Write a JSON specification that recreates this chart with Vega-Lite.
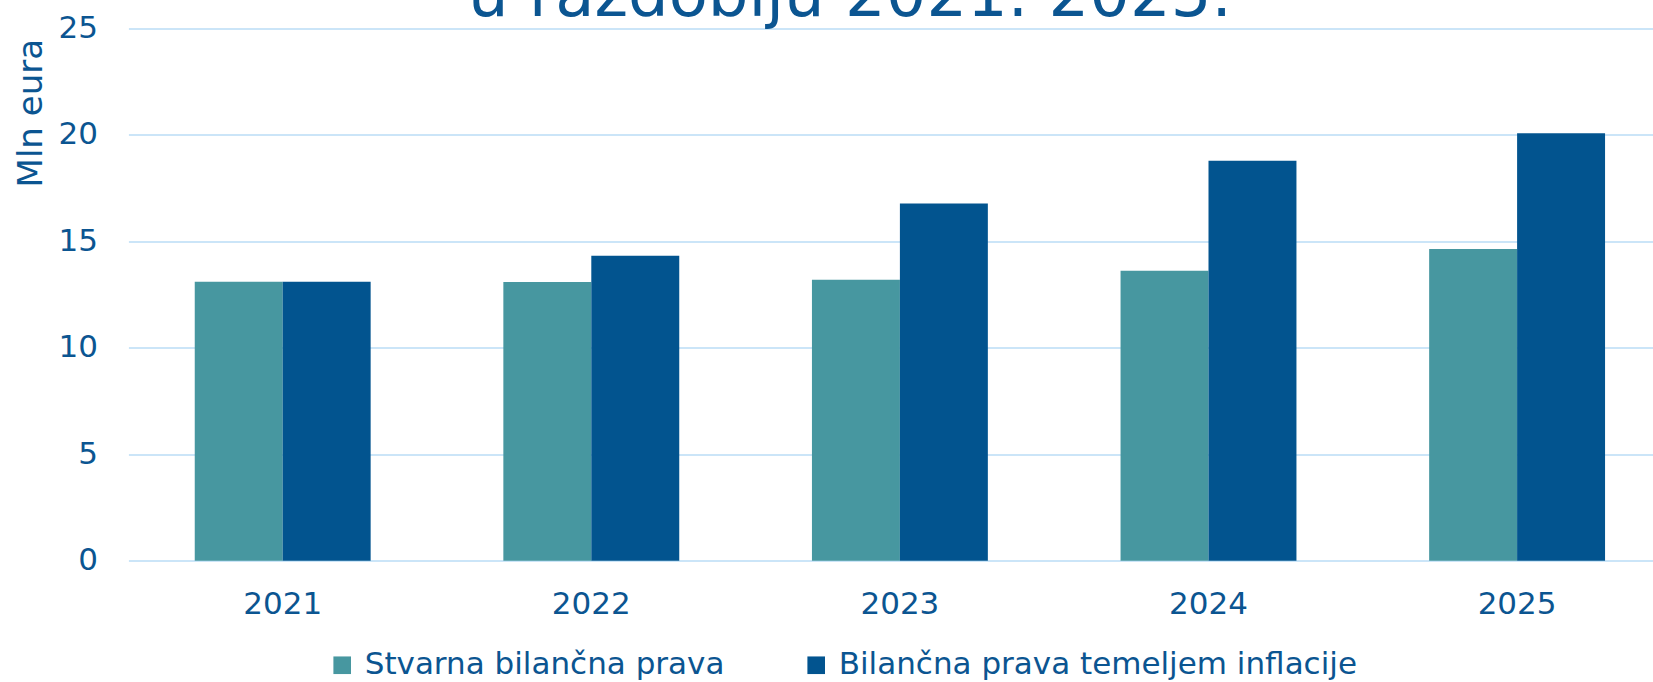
{
  "$schema": "https://vega.github.io/schema/vega-lite/v6.json",
  "autosize": {"type": "none"},
  "width": 1543,
  "height": 532.2,
  "padding": {"left": 128.4, "top": 28.5, "right": -18.4, "bottom": 121.3},
  "background": "white",
  "title": {
    "text": "u razdoblju 2021. 2025.",
    "font": "DejaVu Sans",
    "fontSize": 64,
    "fontWeight": "normal",
    "color": "#0b5591",
    "anchor": "middle",
    "offset": -16,
    "dx": -50
  },
  "data": {
    "values": [
      {"godina": "2021", "serija": "Stvarna bilančna prava", "vrijednost": 13.1},
      {"godina": "2021", "serija": "Bilančna prava temeljem inflacije", "vrijednost": 13.1},
      {"godina": "2022", "serija": "Stvarna bilančna prava", "vrijednost": 13.09},
      {"godina": "2022", "serija": "Bilančna prava temeljem inflacije", "vrijednost": 14.32},
      {"godina": "2023", "serija": "Stvarna bilančna prava", "vrijednost": 13.2},
      {"godina": "2023", "serija": "Bilančna prava temeljem inflacije", "vrijednost": 16.78},
      {"godina": "2024", "serija": "Stvarna bilančna prava", "vrijednost": 13.62},
      {"godina": "2024", "serija": "Bilančna prava temeljem inflacije", "vrijednost": 18.79},
      {"godina": "2025", "serija": "Stvarna bilančna prava", "vrijednost": 14.64},
      {"godina": "2025", "serija": "Bilančna prava temeljem inflacije", "vrijednost": 20.08}
    ]
  },
  "mark": {"type": "bar", "strokeWidth": 0},
  "encoding": {
    "x": {
      "field": "godina",
      "type": "nominal",
      "scale": {"paddingInner": 0.43, "paddingOuter": 0.215},
      "axis": {
        "title": null,
        "labelAngle": 0,
        "labelFont": "DejaVu Sans",
        "labelFontSize": 31,
        "labelColor": "#0b5591",
        "labelPadding": 29,
        "ticks": false,
        "domain": false,
        "grid": false
      }
    },
    "xOffset": {
      "field": "serija",
      "type": "nominal",
      "sort": ["Stvarna bilančna prava", "Bilančna prava temeljem inflacije"]
    },
    "y": {
      "field": "vrijednost",
      "type": "quantitative",
      "scale": {"domain": [0, 25], "nice": false},
      "axis": {
        "title": "Mln eura",
        "titleFont": "DejaVu Sans",
        "titleFontSize": 34,
        "titleFontWeight": "normal",
        "titleColor": "#0b5591",
        "titleAnchor": "end",
        "titleY": 10,
        "titlePadding": 9,
        "values": [0, 5, 10, 15, 20, 25],
        "labelFont": "DejaVu Sans",
        "labelFontSize": 31,
        "labelColor": "#0b5591",
        "labelPadding": 31,
        "ticks": false,
        "domain": false,
        "grid": true,
        "gridColor": "#cbe5f8",
        "gridWidth": 2
      }
    },
    "color": {
      "field": "serija",
      "type": "nominal",
      "sort": ["Stvarna bilančna prava", "Bilančna prava temeljem inflacije"],
      "scale": {
        "domain": ["Stvarna bilančna prava", "Bilančna prava temeljem inflacije"],
        "range": ["#4797a0", "#02548f"]
      },
      "legend": {
        "title": null,
        "orient": "none",
        "direction": "horizontal",
        "legendX": 198.3,
        "legendY": 621,
        "padding": 0,
        "symbolType": "square",
        "symbolSize": 310,
        "symbolStrokeWidth": 0,
        "labelFont": "DejaVu Sans",
        "labelFontSize": 31,
        "labelColor": "#0b5591",
        "labelOffset": 7,
        "columnPadding": 76,
        "labelLimit": 800
      }
    }
  },
  "config": {
    "view": {"stroke": null}
  }
}
